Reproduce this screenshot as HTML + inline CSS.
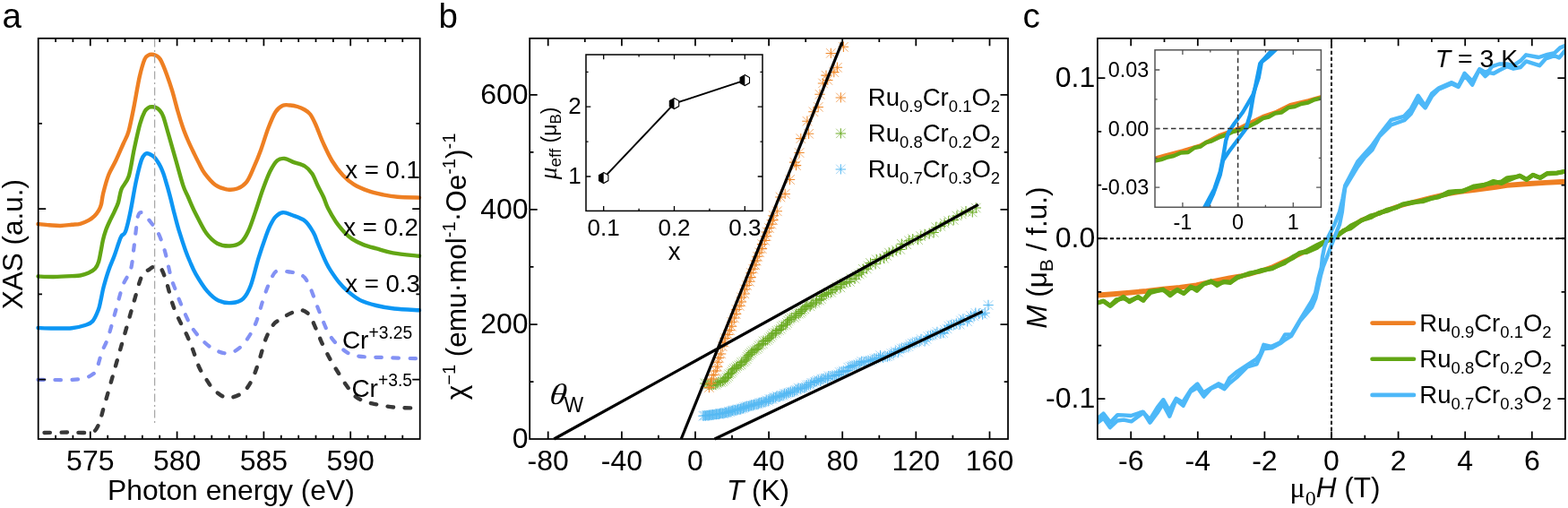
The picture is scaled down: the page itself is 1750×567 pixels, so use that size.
<!DOCTYPE html><html><head><meta charset="utf-8"><title>Figure</title><style>html,body{margin:0;padding:0;background:#fff;overflow:hidden}svg{display:block}</style></head><body>
<svg width="1750" height="567" viewBox="0 0 1750 567" font-family="'Liberation Sans', Arial, sans-serif" fill="#000">
<rect width="1750" height="567" fill="#fff"/>
<g fill="none" stroke-linejoin="round" stroke-linecap="round">
<path d="M49.5 483 C53.8 482.9 66.3 482.6 75 482.5 C83.7 482.4 95.6 483.8 101.4 482.5 C107.2 481.2 107.2 479.5 109.7 474.7 C112.2 469.9 113.6 462.1 116.1 453.6 C118.6 445.2 121.8 433.9 124.6 424 C127.4 414.1 130.2 404.3 133 394.4 C135.8 384.5 138.7 374.6 141.5 364.8 C144.3 355 147.1 344.8 149.9 335.3 C152.7 325.8 155.6 313.6 158.4 307.8 C161.2 302 164.3 302.4 166.8 300.6 C169.3 298.8 171.1 297.4 173.2 297.2 C175.3 297 177.4 296.6 179.5 299.4 C181.6 302.2 183.4 307.4 185.6 314.1 C187.8 320.8 190.3 332.4 192.7 339.5 C195 346.6 197.1 350.8 199.7 356.4 C202.3 362 205.6 367.7 208.2 373.3 C210.8 378.9 212.8 384.1 215.2 390.2 C217.5 396.3 219.7 404.4 222.3 410 C224.9 415.6 227.9 419.9 230.7 424.1 C233.5 428.3 235.4 432.1 239.2 435.4 C242.9 438.7 248.2 443.3 253.2 443.9 C258.2 444.5 264.9 442.1 269.3 439.2 C273.8 436.3 276.7 432.1 279.9 426.5 C283.1 420.9 285.5 413.4 288.3 405.3 C291.1 397.2 294 385 296.8 377.8 C299.6 370.6 302.8 365.5 305.3 362 C307.8 358.5 309.7 358.6 312 357 C314.3 355.4 316.6 353.9 319 352.5 C321.4 351.1 323.9 349.9 326.6 348.8 C329.4 347.7 332.8 345.9 335.5 346 C338.2 346.1 341 347.7 343 349.3 C345 350.9 346 352.9 347.5 355.5 C349 358.1 350.5 362 351.8 365 C353.1 368 354.2 370.5 355.5 373.5 C356.8 376.5 357.3 378.6 359.4 383 C361.5 387.4 365.1 394.7 367.9 399.9 C370.7 405.1 373.2 409.1 376.3 414 C379.4 418.9 382.9 424.8 386.2 429.5 C389.5 434.2 392.7 439 396 442 C399.3 445 402.4 446 406 447.5 C409.6 449 411.5 449.6 417.4 450.8 C423.3 452 432.8 453.9 441.2 454.7 C449.6 455.5 463.5 455.4 468 455.5" stroke="#383838" stroke-width="4.4" stroke-dasharray="6.5 12.5"/>
<path d="M42.5 423.8 C45.4 423.8 53.8 424 60 424 C66.2 424 74.2 424.4 80 424 C85.8 423.6 91.1 422.9 95 421.9 C98.9 420.8 101.3 419.2 103.4 417.7 C105.5 416.2 105.9 417.1 107.6 413 C109.3 408.9 111.7 398.7 113.8 392.8 C115.9 386.9 117.8 385 120.3 377.5 C122.8 370 126 357.8 128.8 347.9 C131.6 338 134.4 326.1 137.2 318.4 C140 310.7 143.7 307.9 145.7 301.5 C147.7 295.1 147.9 287.8 149 280 C150.1 272.2 151.2 261.2 152 255 C152.8 248.8 152.8 245.9 153.5 243 C154.2 240.1 154.9 238.2 156 237.5 C157.1 236.8 157.9 236.8 159.9 238.5 C161.9 240.2 165.2 244.1 168 247.7 C170.8 251.3 173.9 254.9 176.5 260 C179.1 265.1 181.5 272.2 183.3 278 C185.1 283.8 186.2 289.4 187.5 295 C188.8 300.6 190 306.7 191.3 311.3 C192.6 315.9 194.1 318.7 195.5 322.5 C196.9 326.3 197.8 329.2 199.7 333.9 C201.6 338.6 204.5 345.6 206.8 350.8 C209.2 356 210.8 360.2 213.8 364.9 C216.9 369.6 220.9 374.8 225.1 379 C229.3 383.2 234.3 387.6 239.2 390.2 C244.1 392.8 249.8 394.8 254.5 394.5 C259.2 394.2 263.3 391.5 267.2 388.4 C271.1 385.3 274.6 380.6 277.8 375.7 C281 370.8 283.4 366.1 286.2 358.7 C289 351.3 291.9 339.3 294.7 331.2 C297.5 323.1 300.7 314.8 303.2 310 C305.7 305.2 306 303.4 309.5 302.4 C313 301.3 320.4 303.2 324.3 303.7 C328.2 304.2 330.2 304.5 332.8 305.5 C335.4 306.5 337.6 307 339.9 309.7 C342.2 312.4 343.9 315.6 346.5 321.6 C349.1 327.6 352 336.9 355.5 345.5 C359 354.1 363.1 366 367.5 373.3 C371.9 380.6 376.7 385.2 381.7 389.2 C386.7 393.2 389.6 395.5 397.5 397.1 C405.4 398.8 417.6 398.6 429.3 399.1 C441.1 399.6 461.6 400.1 468 400.3" stroke="#8391f4" stroke-width="4.2" stroke-dasharray="6.5 12.5"/>
<path d="M42.5 366 C45.4 366.1 53.8 366.5 60 366.5 C66.2 366.5 74.2 366.8 80 366.2 C85.8 365.6 91.1 364.3 95 363 C98.9 361.7 100.9 361.4 103.4 358.5 C105.9 355.6 108.3 349.7 109.8 345.8 C111.3 341.9 111.5 339.3 112.5 335 C113.5 330.7 114.2 325.6 115.7 320 C117.2 314.4 119.3 307.1 121.3 301.4 C123.3 295.7 125.8 290.6 127.6 285.6 C129.4 280.6 131.1 275 132.4 271.3 C133.7 267.6 134.3 265.4 135.6 263.3 C136.9 261.2 138.3 263.2 140 258.6 C141.7 254 143.8 244.8 145.7 235.5 C147.6 226.2 149.7 212.5 151.7 203.1 C153.7 193.7 156.1 184 157.8 178.8 C159.5 173.6 160.9 173.2 162 172 C163.1 170.8 163.5 171.2 164.5 171.3 C165.5 171.4 166.7 171.8 168 172.5 C169.3 173.2 171 174.2 172.3 175.5 C173.6 176.8 174.8 178.7 176 180.5 C177.2 182.3 178.3 184.2 179.4 186.4 C180.5 188.7 181.6 191.5 182.5 194 C183.4 196.5 183.7 197.6 184.8 201.5 C186 205.4 187.8 211.4 189.4 217.6 C191.1 223.8 192.9 232 194.7 238.8 C196.5 245.6 197.9 251.4 200 258.2 C202.1 265 205 273.8 207 279.4 C209 285 210.1 287.6 212 292 C213.9 296.4 215.3 300.3 218.5 305.8 C221.7 311.3 227 319.9 231.2 324.9 C235.4 329.8 239.3 333.3 243.9 335.5 C248.5 337.7 254.1 338.4 258.7 338 C263.3 337.6 267.9 336.6 271.4 333.3 C274.9 330.1 277.1 325.9 279.9 318.5 C282.7 311.1 285.5 298.1 288.3 288.9 C291.1 279.7 294.6 269.6 296.8 263.5 C299 257.4 299.6 255.6 301.4 252 C303.2 248.4 305.1 244.5 307.5 242 C309.9 239.5 312.6 237.5 315.6 237.2 C318.7 236.9 321.7 238.4 325.8 240 C329.9 241.6 336.2 243.3 340.2 246.5 C344.2 249.7 347.3 255.3 349.7 259.4 C352.1 263.5 352.9 267.1 354.5 271 C356.1 274.9 357.8 279 359.4 282.7 C361 286.4 362.4 289.8 364 293 C365.6 296.2 366.6 298.3 369.1 302.1 C371.6 305.9 375.6 311.8 378.8 315.7 C382 319.6 384.6 322.2 388.5 325.4 C392.4 328.6 396.9 332.5 402.1 335.1 C407.4 337.7 413.7 339.4 420 341 C426.3 342.6 432 343.6 440 344.5 C448 345.4 463.3 346 468 346.3" stroke="#0c96f4" stroke-width="4.4"/>
<path d="M42.5 308.5 C45.4 308.6 53.8 309.1 60 309 C66.2 308.9 75.1 308.4 80 308.1 C84.9 307.9 86.3 308.1 89.5 307.5 C92.7 306.9 96.2 305.9 99 304.6 C101.8 303.3 104.3 301.9 106.2 299.8 C108.1 297.7 109.2 295.1 110.2 291.9 C111.2 288.7 111.7 284.8 112.5 280.8 C113.3 276.8 114 272.1 114.9 268.1 C115.8 264.1 116.8 260.7 118.1 257 C119.4 253.3 121.3 249.3 122.9 245.9 C124.5 242.5 126.1 239.6 127.6 236.3 C129.1 233 130.7 230.2 132 226 C133.3 221.8 133.6 216 135.5 211.2 C137.4 206.4 141.2 204.4 143.6 197 C146 189.6 147.6 176.4 149.7 166.6 C151.8 156.8 154.3 145.2 156.3 138.2 C158.3 131.2 159.9 127.5 161.5 124.5 C163.1 121.5 164.6 120.9 166 120 C167.4 119.1 168.7 119.3 170 119.3 C171.3 119.3 172.7 119.4 174 120 C175.3 120.6 176.6 121.3 178 123 C179.4 124.7 180.5 125.4 182.2 130 C183.9 134.6 185.8 142.3 188.2 150.4 C190.5 158.5 193.6 169.4 196.3 178.8 C199 188.2 202.1 200.2 204.4 207.1 C206.7 214 207.7 214.8 210 220 C212.3 225.2 214.7 231.3 218.1 238 C221.5 244.7 226.2 254.7 230.3 260.3 C234.4 265.9 238.1 269.3 242.5 271.7 C246.9 274.1 252.3 274.7 256.7 274.5 C261.1 274.3 265.5 273.2 268.9 270.5 C272.3 267.8 274.3 264.1 277 258.3 C279.7 252.5 282.5 243.7 285.2 235.9 C287.9 228.1 290.6 219 293.3 211.6 C296 204.2 298.7 196.7 301.4 191.3 C304.1 185.9 306.8 181.5 309.5 179.1 C312.2 176.7 314.6 176.7 317.7 177 C320.8 177.3 324.1 179.7 327.8 181.1 C331.6 182.5 336.8 183.4 340.2 185.5 C343.6 187.6 345.9 190.1 348.3 193.7 C350.7 197.3 352.4 202.6 354.5 207 C356.6 211.4 359.2 215.8 361.1 220 C363 224.2 363.7 227.8 366 232.3 C368.3 236.8 371.6 242.7 374.7 247.2 C377.8 251.7 381.5 256.2 384.6 259.5 C387.7 262.8 389.7 264.6 393.2 266.9 C396.7 269.2 401.1 271.4 405.6 273.1 C410.1 274.9 414.5 275.9 420 277.4 C425.5 278.9 430.6 280.9 438.6 282.3 C446.6 283.7 463.1 285.2 468 285.8" stroke="#62a614" stroke-width="4.4"/>
<path d="M42.5 250 C44.6 250.2 50.8 251 55 251.3 C59.2 251.6 63.3 252.1 67.5 252 C71.7 251.9 76.3 251.2 80 250.8 C83.7 250.4 86.3 250.6 89.5 249.8 C92.7 249 96.3 247.4 99 245.9 C101.7 244.4 103.5 242.9 105.4 241.1 C107.3 239.2 108.9 237 110.2 234.8 C111.5 232.6 112.2 231.3 113 228 C113.8 224.7 113.9 220.7 115.3 215.2 C116.7 209.7 118.9 201.1 121.3 195 C123.7 188.9 126.8 184.6 129.5 178.8 C132.2 173.1 135.2 165.9 137.6 160.5 C139.9 155.1 141.6 153.4 143.6 146.3 C145.6 139.2 147.7 128.1 149.7 118 C151.7 107.9 153.8 94.2 155.8 85.5 C157.8 76.8 159.8 70 161.5 66 C163.2 62 164.7 62.4 166 61.5 C167.3 60.6 168.3 60.8 169.5 60.8 C170.7 60.8 171.8 61 173 61.5 C174.2 62 175.3 62.3 176.5 63.5 C177.7 64.7 178.5 65.2 180.1 68.5 C181.7 71.8 184.2 78 186.2 83.5 C188.2 89 190.3 95 192.3 101.7 C194.3 108.5 196.5 117.3 198.4 124 C200.3 130.7 202.2 136.7 204 142 C205.8 147.3 207.5 151.3 209.5 156 C211.5 160.7 213.9 165.7 216 170 C218.1 174.3 219.9 178.1 222 182 C224.1 185.9 225.2 189.2 228.3 193.3 C231.4 197.4 236.4 203.5 240.5 206.5 C244.6 209.5 248.6 210.6 252.7 211.3 C256.8 212 261.1 211.8 264.8 210.5 C268.5 209.2 271.9 207.3 275 203.4 C278.1 199.5 280.4 193.3 283.1 187.2 C285.8 181.1 288.6 174.3 291.3 166.9 C294 159.5 296.7 150 299.4 143 C302.1 136 304.8 129.2 307.5 125 C310.2 120.8 312.9 119 315.6 117.8 C318.3 116.5 321.1 117.3 323.8 117.5 C326.5 117.7 329.2 118.2 331.9 119 C334.6 119.8 337.6 121.1 340 122.5 C342.4 123.9 344.1 124.8 346.2 127.5 C348.2 130.2 349.9 133.7 352.3 139 C354.7 144.3 357.4 152.4 360.5 159.2 C363.6 165.9 366.9 173.4 370.6 179.5 C374.3 185.6 378.7 191.4 382.8 195.8 C386.9 200.2 390.3 203 395 205.9 C399.7 208.8 405.8 211.3 411.2 213.2 C416.6 215.1 422.1 216.2 427.5 217.3 C432.9 218.4 436.9 219.2 443.7 219.8 C450.4 220.4 463.9 220.5 468 220.6" stroke="#ee7f22" stroke-width="4.4"/>
</g>
<path d="M172.6 43.5 V473" stroke="#a8a8a8" stroke-width="1.3" stroke-dasharray="9 3.5 2 3.5"/>
<rect x="42.7" y="42.8" width="426" height="447.2" fill="none" stroke="#000" stroke-width="1.75"/>
<path d="M100.8 490 v-8.5M197.6 490 v-8.5M294.4 490 v-8.5M391.2 490 v-8.5" stroke="#000" stroke-width="1.75" fill="none"/>
<path d="M62.1 490 v-4.3M81.4 490 v-4.3M120.2 490 v-4.3M139.5 490 v-4.3M158.9 490 v-4.3M178.2 490 v-4.3M217 490 v-4.3M236.3 490 v-4.3M255.7 490 v-4.3M275.1 490 v-4.3M313.8 490 v-4.3M333.2 490 v-4.3M352.5 490 v-4.3M371.9 490 v-4.3M410.6 490 v-4.3M430 490 v-4.3M449.3 490 v-4.3" stroke="#000" stroke-width="1.75" fill="none"/>
<path d="M100.8 42.8 v8.5M197.6 42.8 v8.5M294.4 42.8 v8.5M391.2 42.8 v8.5" stroke="#000" stroke-width="1.75" fill="none"/>
<path d="M62.1 42.8 v4.3M81.4 42.8 v4.3M120.2 42.8 v4.3M139.5 42.8 v4.3M158.9 42.8 v4.3M178.2 42.8 v4.3M217 42.8 v4.3M236.3 42.8 v4.3M255.7 42.8 v4.3M275.1 42.8 v4.3M313.8 42.8 v4.3M333.2 42.8 v4.3M352.5 42.8 v4.3M371.9 42.8 v4.3M410.6 42.8 v4.3M430 42.8 v4.3M449.3 42.8 v4.3" stroke="#000" stroke-width="1.75" fill="none"/>
<path d="M42.7 233.1 h8.5M42.7 423.7 h8.5" stroke="#000" stroke-width="1.75" fill="none"/>
<path d="M42.7 137.8 h4.3M42.7 328.4 h4.3" stroke="#000" stroke-width="1.75" fill="none"/>
<path d="M468.7 233.1 h-8.5M468.7 423.7 h-8.5" stroke="#000" stroke-width="1.75" fill="none"/>
<path d="M468.7 137.8 h-4.3M468.7 328.4 h-4.3" stroke="#000" stroke-width="1.75" fill="none"/>
<text x="100.8" y="524.8" font-size="32" text-anchor="middle">575</text>
<text x="197.6" y="524.8" font-size="32" text-anchor="middle">580</text>
<text x="294.4" y="524.8" font-size="32" text-anchor="middle">585</text>
<text x="391.2" y="524.8" font-size="32" text-anchor="middle">590</text>
<text x="257.9" y="558.4" font-size="31.8" text-anchor="middle">Photon energy (eV)</text>
<text transform="translate(25.3 272.7) rotate(-90)" font-size="31.5" text-anchor="middle">XAS (a.u.)</text>
<text x="2.6" y="30.8" font-size="38.5" text-anchor="start">a</text>
<text x="385.3" y="198.8" font-size="27.6" text-anchor="start">x = 0.1</text>
<text x="383.2" y="262.8" font-size="27.6" text-anchor="start">x = 0.2</text>
<text x="385.2" y="326" font-size="27.6" text-anchor="start">x = 0.3</text>
<text x="381.9" y="388.5" font-size="28">Cr<tspan font-size="19.3" dy="-10.5">+3.25</tspan></text>
<text x="392.4" y="442.7" font-size="28">Cr<tspan font-size="19.3" dy="-11.9">+3.5</tspan></text>
<path d="M779.6 459l10.5 10.5M779.6 469.4l10.5 -10.5M780.9 458.7l10.5 10.5M780.9 469.2l10.5 -10.5M782.3 458.9l10.5 10.5M782.3 469.3l10.5 -10.5M783.5 458.3l10.5 10.5M783.5 468.8l10.5 -10.5M784.9 458.5l10.5 10.5M784.9 469l10.5 -10.5M786.2 458.2l10.5 10.5M786.2 468.7l10.5 -10.5M787.5 457.9l10.5 10.5M787.5 468.3l10.5 -10.5M788.9 458l10.5 10.5M788.9 468.5l10.5 -10.5M790.2 457.5l10.5 10.5M790.2 468l10.5 -10.5M791.5 457.6l10.5 10.5M791.5 468.1l10.5 -10.5M792.8 457.2l10.5 10.5M792.8 467.6l10.5 -10.5M794.2 457l10.5 10.5M794.2 467.4l10.5 -10.5M795.6 457l10.5 10.5M795.6 467.5l10.5 -10.5M797 457.1l10.5 10.5M797 467.6l10.5 -10.5M798.3 456.2l10.5 10.5M798.3 466.7l10.5 -10.5M799.7 456.1l10.5 10.5M799.7 466.5l10.5 -10.5M801.2 456.1l10.5 10.5M801.2 466.6l10.5 -10.5M802.6 456.1l10.5 10.5M802.6 466.6l10.5 -10.5M803.9 455.5l10.5 10.5M803.9 466l10.5 -10.5M805.3 455l10.5 10.5M805.3 465.5l10.5 -10.5M806.8 455.2l10.5 10.5M806.8 465.7l10.5 -10.5M808 454l10.5 10.5M808 464.5l10.5 -10.5M809.7 454.5l10.5 10.5M809.7 465l10.5 -10.5M811 453.5l10.5 10.5M811 464l10.5 -10.5M812.3 453l10.5 10.5M812.3 463.5l10.5 -10.5M813.8 452.6l10.5 10.5M813.8 463.1l10.5 -10.5M815.3 452.5l10.5 10.5M815.3 463l10.5 -10.5M816.9 452.6l10.5 10.5M816.9 463.1l10.5 -10.5M818.1 451.5l10.5 10.5M818.1 462l10.5 -10.5M819.7 451.6l10.5 10.5M819.7 462.1l10.5 -10.5M821.2 451.2l10.5 10.5M821.2 461.7l10.5 -10.5M822.6 450.5l10.5 10.5M822.6 461l10.5 -10.5M824.2 450.3l10.5 10.5M824.2 460.7l10.5 -10.5M825.5 449.2l10.5 10.5M825.5 459.7l10.5 -10.5M827 448.7l10.5 10.5M827 459.2l10.5 -10.5M828.5 448.4l10.5 10.5M828.5 458.9l10.5 -10.5M830.2 448.6l10.5 10.5M830.2 459.1l10.5 -10.5M831.6 447.8l10.5 10.5M831.6 458.3l10.5 -10.5M833.1 447.2l10.5 10.5M833.1 457.7l10.5 -10.5M834.8 447.1l10.5 10.5M834.8 457.6l10.5 -10.5M836.3 446.5l10.5 10.5M836.3 457l10.5 -10.5M837.8 445.8l10.5 10.5M837.8 456.3l10.5 -10.5M839.6 446l10.5 10.5M839.6 456.5l10.5 -10.5M841.1 445.4l10.5 10.5M841.1 455.9l10.5 -10.5M842.5 444.3l10.5 10.5M842.5 454.8l10.5 -10.5M844.2 444.3l10.5 10.5M844.2 454.8l10.5 -10.5M845.8 443.7l10.5 10.5M845.8 454.2l10.5 -10.5M847.5 443.7l10.5 10.5M847.5 454.1l10.5 -10.5M849.1 442.9l10.5 10.5M849.1 453.4l10.5 -10.5M850.4 441.6l10.5 10.5M850.4 452.1l10.5 -10.5M852.4 442.2l10.5 10.5M852.4 452.6l10.5 -10.5M853.6 440.2l10.5 10.5M853.6 450.7l10.5 -10.5M855.4 440.1l10.5 10.5M855.4 450.6l10.5 -10.5M857.2 440l10.5 10.5M857.2 450.5l10.5 -10.5M858.5 438.4l10.5 10.5M858.5 448.9l10.5 -10.5M860.3 438.4l10.5 10.5M860.3 448.9l10.5 -10.5M861.7 437l10.5 10.5M861.7 447.5l10.5 -10.5M863.8 437.4l10.5 10.5M863.8 447.9l10.5 -10.5M865.5 436.9l10.5 10.5M865.5 447.4l10.5 -10.5M867.1 436l10.5 10.5M867.1 446.5l10.5 -10.5M868.9 435.9l10.5 10.5M868.9 446.4l10.5 -10.5M870.3 434.2l10.5 10.5M870.3 444.7l10.5 -10.5M872.3 434.3l10.5 10.5M872.3 444.8l10.5 -10.5M873.9 433.5l10.5 10.5M873.9 444l10.5 -10.5M875.7 432.9l10.5 10.5M875.7 443.3l10.5 -10.5M877.3 432l10.5 10.5M877.3 442.5l10.5 -10.5M879.4 432.1l10.5 10.5M879.4 442.6l10.5 -10.5M881.2 431.6l10.5 10.5M881.2 442.1l10.5 -10.5M882.6 430l10.5 10.5M882.6 440.5l10.5 -10.5M884.5 429.7l10.5 10.5M884.5 440.2l10.5 -10.5M885.9 427.8l10.5 10.5M885.9 438.3l10.5 -10.5M888.2 428.4l10.5 10.5M888.2 438.9l10.5 -10.5M889.9 427.6l10.5 10.5M889.9 438.1l10.5 -10.5M892 427.7l10.5 10.5M892 438.1l10.5 -10.5M893.7 426.6l10.5 10.5M893.7 437.1l10.5 -10.5M895.1 424.7l10.5 10.5M895.1 435.2l10.5 -10.5M897 424.2l10.5 10.5M897 434.7l10.5 -10.5M899.1 424.1l10.5 10.5M899.1 434.6l10.5 -10.5M900.4 422l10.5 10.5M900.4 432.5l10.5 -10.5M902.7 422.2l10.5 10.5M902.7 432.7l10.5 -10.5M904.3 420.8l10.5 10.5M904.3 431.3l10.5 -10.5M906.2 420l10.5 10.5M906.2 430.4l10.5 -10.5M908 419.1l10.5 10.5M908 429.6l10.5 -10.5M910.6 420l10.5 10.5M910.6 430.5l10.5 -10.5M911.9 417.7l10.5 10.5M911.9 428.2l10.5 -10.5M914 417.3l10.5 10.5M914 427.7l10.5 -10.5M916.1 416.8l10.5 10.5M916.1 427.3l10.5 -10.5M918.5 417.3l10.5 10.5M918.5 427.8l10.5 -10.5M919.7 414.5l10.5 10.5M919.7 425l10.5 -10.5M922 414.7l10.5 10.5M922 425.2l10.5 -10.5M924.1 414.2l10.5 10.5M924.1 424.6l10.5 -10.5M926.5 414.2l10.5 10.5M926.5 424.7l10.5 -10.5M928.4 413.3l10.5 10.5M928.4 423.8l10.5 -10.5M930.5 412.6l10.5 10.5M930.5 423.1l10.5 -10.5M931.9 410.2l10.5 10.5M931.9 420.7l10.5 -10.5M934.1 409.8l10.5 10.5M934.1 420.2l10.5 -10.5M936.1 408.7l10.5 10.5M936.1 419.2l10.5 -10.5M938.8 409.2l10.5 10.5M938.8 419.7l10.5 -10.5M941 408.2l10.5 10.5M941 418.7l10.5 -10.5M941.5 404.9l10.5 10.5M941.5 415.4l10.5 -10.5M943.7 403.9l10.5 10.5M943.7 414.4l10.5 -10.5M945.9 403.1l10.5 10.5M945.9 413.6l10.5 -10.5M948 402.3l10.5 10.5M948 412.8l10.5 -10.5M950.5 402.2l10.5 10.5M950.5 412.7l10.5 -10.5M952.7 401.7l10.5 10.5M952.7 412.1l10.5 -10.5M954.6 399.9l10.5 10.5M954.6 410.3l10.5 -10.5M956.5 398.2l10.5 10.5M956.5 408.7l10.5 -10.5M959.1 398.7l10.5 10.5M959.1 409.2l10.5 -10.5M961.3 397.7l10.5 10.5M961.3 408.2l10.5 -10.5M963.8 397.5l10.5 10.5M963.8 408l10.5 -10.5M966.5 398l10.5 10.5M966.5 408.5l10.5 -10.5M968.5 396.4l10.5 10.5M968.5 406.9l10.5 -10.5M970.6 395.1l10.5 10.5M970.6 405.5l10.5 -10.5M973 394.7l10.5 10.5M973 405.2l10.5 -10.5M975.4 394.2l10.5 10.5M975.4 404.7l10.5 -10.5M977.2 391.4l10.5 10.5M977.2 401.9l10.5 -10.5M980.4 393.8l10.5 10.5M980.4 404.3l10.5 -10.5M982.7 392.8l10.5 10.5M982.7 403.3l10.5 -10.5M985.2 392.5l10.5 10.5M985.2 402.9l10.5 -10.5M987.6 391.5l10.5 10.5M987.6 402l10.5 -10.5M989.6 389.3l10.5 10.5M989.6 399.8l10.5 -10.5M992.1 388.9l10.5 10.5M992.1 399.4l10.5 -10.5M994.1 387l10.5 10.5M994.1 397.5l10.5 -10.5M997.2 387.9l10.5 10.5M997.2 398.4l10.5 -10.5M998.7 384.8l10.5 10.5M998.7 395.3l10.5 -10.5M1001 383.7l10.5 10.5M1001 394.2l10.5 -10.5M1003.7 383.2l10.5 10.5M1003.7 393.7l10.5 -10.5M1006 381.9l10.5 10.5M1006 392.4l10.5 -10.5M1008.7 381.4l10.5 10.5M1008.7 391.9l10.5 -10.5M1010.6 379.2l10.5 10.5M1010.6 389.7l10.5 -10.5M1012.9 377.9l10.5 10.5M1012.9 388.4l10.5 -10.5M1015.6 377.3l10.5 10.5M1015.6 387.8l10.5 -10.5M1018 375.9l10.5 10.5M1018 386.4l10.5 -10.5M1020.9 375.8l10.5 10.5M1020.9 386.3l10.5 -10.5M1022.8 373.3l10.5 10.5M1022.8 383.8l10.5 -10.5M1026.8 375.4l10.5 10.5M1026.8 385.9l10.5 -10.5M1028.8 373.2l10.5 10.5M1028.8 383.7l10.5 -10.5M1030.5 370.2l10.5 10.5M1030.5 380.7l10.5 -10.5M1033.2 369.4l10.5 10.5M1033.2 379.9l10.5 -10.5M1035.9 368.6l10.5 10.5M1035.9 379.1l10.5 -10.5M1038.5 367.4l10.5 10.5M1038.5 377.9l10.5 -10.5M1040.6 365.2l10.5 10.5M1040.6 375.7l10.5 -10.5M1044.7 367l10.5 10.5M1044.7 377.5l10.5 -10.5M1047.5 366.4l10.5 10.5M1047.5 376.8l10.5 -10.5M1049.1 362.9l10.5 10.5M1049.1 373.4l10.5 -10.5M1051.8 361.7l10.5 10.5M1051.8 372.2l10.5 -10.5M1053.6 358.7l10.5 10.5M1053.6 369.2l10.5 -10.5M1056.3 357.5l10.5 10.5M1056.3 368l10.5 -10.5M1059.5 357.3l10.5 10.5M1059.5 367.8l10.5 -10.5M1062 355.7l10.5 10.5M1062 366.2l10.5 -10.5M1065.9 356.9l10.5 10.5M1065.9 367.4l10.5 -10.5M1067.2 352.6l10.5 10.5M1067.2 363.1l10.5 -10.5M1069.7 350.7l10.5 10.5M1069.7 361.2l10.5 -10.5M1074.4 353.6l10.5 10.5M1074.4 364.1l10.5 -10.5M1076.3 350.3l10.5 10.5M1076.3 360.8l10.5 -10.5M1078.2 347.2l10.5 10.5M1078.2 357.7l10.5 -10.5M1081.9 347.7l10.5 10.5M1081.9 358.2l10.5 -10.5M1083.5 344l10.5 10.5M1083.5 354.5l10.5 -10.5M1087.5 345l10.5 10.5M1087.5 355.5l10.5 -10.5M1091.4 345.8l10.5 10.5M1091.4 356.3l10.5 -10.5M1094 343.9l10.5 10.5M1094 354.4l10.5 -10.5" stroke="#8ccaf2" stroke-width="0.8" fill="none"/>
<path d="M779.2 464.2h11.4M784.9 458.5v11.4M780.5 463.9h11.4M786.2 458.2v11.4M781.8 464.1h11.4M787.5 458.4v11.4M783.1 463.6h11.4M788.8 457.9v11.4M784.4 463.7h11.4M790.1 458v11.4M785.7 463.5h11.4M791.4 457.8v11.4M787 463.1h11.4M792.7 457.4v11.4M788.4 463.3h11.4M794.1 457.6v11.4M789.7 462.7h11.4M795.4 457v11.4M791.1 462.9h11.4M796.8 457.2v11.4M792.4 462.4h11.4M798.1 456.7v11.4M793.8 462.2h11.4M799.5 456.5v11.4M795.2 462.2h11.4M800.9 456.5v11.4M796.6 462.3h11.4M802.3 456.6v11.4M797.8 461.5h11.4M803.5 455.8v11.4M799.2 461.3h11.4M804.9 455.6v11.4M800.7 461.4h11.4M806.4 455.7v11.4M802.2 461.4h11.4M807.9 455.7v11.4M803.5 460.7h11.4M809.2 455v11.4M804.8 460.2h11.4M810.5 454.5v11.4M806.4 460.5h11.4M812.1 454.8v11.4M807.6 459.2h11.4M813.3 453.5v11.4M809.2 459.7h11.4M814.9 454v11.4M810.5 458.8h11.4M816.2 453.1v11.4M811.9 458.3h11.4M817.6 452.6v11.4M813.3 457.9h11.4M819 452.2v11.4M814.8 457.7h11.4M820.5 452v11.4M816.4 457.9h11.4M822.1 452.2v11.4M817.7 456.8h11.4M823.4 451.1v11.4M819.3 456.8h11.4M825 451.1v11.4M820.8 456.5h11.4M826.5 450.8v11.4M822.2 455.7h11.4M827.9 450v11.4M823.7 455.5h11.4M829.4 449.8v11.4M825 454.5h11.4M830.7 448.8v11.4M826.5 454h11.4M832.2 448.3v11.4M828.1 453.7h11.4M833.8 448v11.4M829.8 453.8h11.4M835.5 448.1v11.4M831.2 453h11.4M836.9 447.3v11.4M832.7 452.4h11.4M838.4 446.7v11.4M834.3 452.3h11.4M840 446.6v11.4M835.8 451.7h11.4M841.5 446v11.4M837.3 451.1h11.4M843 445.4v11.4M839.1 451.3h11.4M844.8 445.6v11.4M840.6 450.7h11.4M846.3 445v11.4M842 449.5h11.4M847.7 443.8v11.4M843.7 449.5h11.4M849.4 443.8v11.4M845.3 448.9h11.4M851 443.2v11.4M847.1 448.9h11.4M852.8 443.2v11.4M848.6 448.1h11.4M854.3 442.4v11.4M850 446.9h11.4M855.7 441.2v11.4M852 447.4h11.4M857.7 441.7v11.4M853.1 445.5h11.4M858.8 439.8v11.4M854.9 445.3h11.4M860.6 439.6v11.4M856.7 445.3h11.4M862.4 439.6v11.4M858 443.7h11.4M863.7 438v11.4M859.9 443.6h11.4M865.6 437.9v11.4M861.2 442.2h11.4M866.9 436.5v11.4M863.3 442.7h11.4M869 437v11.4M865 442.2h11.4M870.7 436.5v11.4M866.6 441.2h11.4M872.3 435.5v11.4M868.5 441.1h11.4M874.2 435.4v11.4M869.8 439.5h11.4M875.5 433.8v11.4M871.8 439.6h11.4M877.5 433.9v11.4M873.5 438.7h11.4M879.2 433v11.4M875.2 438.1h11.4M880.9 432.4v11.4M876.9 437.2h11.4M882.6 431.5v11.4M878.9 437.3h11.4M884.6 431.6v11.4M880.7 436.9h11.4M886.4 431.2v11.4M882.2 435.3h11.4M887.9 429.6v11.4M884.1 435h11.4M889.8 429.3v11.4M885.4 433.1h11.4M891.1 427.4v11.4M887.7 433.7h11.4M893.4 428v11.4M889.5 432.9h11.4M895.2 427.2v11.4M891.6 432.9h11.4M897.3 427.2v11.4M893.3 431.8h11.4M899 426.1v11.4M894.6 430h11.4M900.3 424.3v11.4M896.6 429.5h11.4M902.3 423.8v11.4M898.7 429.4h11.4M904.4 423.7v11.4M900 427.2h11.4M905.7 421.5v11.4M902.2 427.5h11.4M907.9 421.8v11.4M903.9 426.1h11.4M909.6 420.4v11.4M905.7 425.2h11.4M911.4 419.5v11.4M907.6 424.3h11.4M913.3 418.6v11.4M910.1 425.2h11.4M915.8 419.5v11.4M911.5 423h11.4M917.2 417.3v11.4M913.5 422.5h11.4M919.2 416.8v11.4M915.6 422.1h11.4M921.3 416.4v11.4M918 422.5h11.4M923.7 416.8v11.4M919.2 419.8h11.4M924.9 414.1v11.4M921.6 419.9h11.4M927.3 414.2v11.4M923.7 419.4h11.4M929.4 413.7v11.4M926 419.5h11.4M931.7 413.8v11.4M928 418.5h11.4M933.7 412.8v11.4M930.1 417.8h11.4M935.8 412.1v11.4M931.5 415.5h11.4M937.2 409.8v11.4M933.7 415h11.4M939.4 409.3v11.4M935.6 414h11.4M941.3 408.3v11.4M938.3 414.4h11.4M944 408.7v11.4M940.5 413.4h11.4M946.2 407.7v11.4M941.1 410.2h11.4M946.8 404.5v11.4M943.3 409.1h11.4M949 403.4v11.4M945.4 408.4h11.4M951.1 402.7v11.4M947.6 407.5h11.4M953.3 401.8v11.4M950 407.4h11.4M955.7 401.7v11.4M952.3 406.9h11.4M958 401.2v11.4M954.1 405.1h11.4M959.8 399.4v11.4M956 403.5h11.4M961.7 397.8v11.4M958.7 403.9h11.4M964.4 398.2v11.4M960.9 403h11.4M966.6 397.3v11.4M963.3 402.8h11.4M969 397.1v11.4M966 403.2h11.4M971.7 397.5v11.4M968 401.6h11.4M973.7 395.9v11.4M970.1 400.3h11.4M975.8 394.6v11.4M972.5 399.9h11.4M978.2 394.2v11.4M974.9 399.5h11.4M980.6 393.8v11.4M976.8 396.7h11.4M982.5 391v11.4M979.9 399h11.4M985.6 393.3v11.4M982.2 398h11.4M987.9 392.3v11.4M984.8 397.7h11.4M990.5 392v11.4M987.1 396.7h11.4M992.8 391v11.4M989.2 394.6h11.4M994.9 388.9v11.4M991.6 394.2h11.4M997.3 388.5v11.4M993.6 392.2h11.4M999.3 386.5v11.4M996.7 393.1h11.4M1002.4 387.4v11.4M998.2 390.1h11.4M1003.9 384.4v11.4M1000.6 389h11.4M1006.3 383.3v11.4M1003.2 388.4h11.4M1008.9 382.7v11.4M1005.5 387.1h11.4M1011.2 381.4v11.4M1008.2 386.7h11.4M1013.9 381v11.4M1010.1 384.5h11.4M1015.8 378.8v11.4M1012.5 383.1h11.4M1018.2 377.4v11.4M1015.2 382.5h11.4M1020.9 376.8v11.4M1017.5 381.2h11.4M1023.2 375.5v11.4M1020.4 381h11.4M1026.1 375.3v11.4M1022.3 378.5h11.4M1028 372.8v11.4M1026.4 380.7h11.4M1032.1 375v11.4M1028.4 378.5h11.4M1034.1 372.8v11.4M1030 375.4h11.4M1035.7 369.7v11.4M1032.8 374.6h11.4M1038.5 368.9v11.4M1035.5 373.8h11.4M1041.2 368.1v11.4M1038.1 372.7h11.4M1043.8 367v11.4M1040.2 370.4h11.4M1045.9 364.7v11.4M1044.2 372.2h11.4M1049.9 366.5v11.4M1047.1 371.6h11.4M1052.8 365.9v11.4M1048.7 368.1h11.4M1054.4 362.4v11.4M1051.3 367h11.4M1057 361.3v11.4M1053.2 364h11.4M1058.9 358.3v11.4M1055.9 362.8h11.4M1061.6 357.1v11.4M1059 362.5h11.4M1064.7 356.8v11.4M1061.6 360.9h11.4M1067.3 355.2v11.4M1065.5 362.1h11.4M1071.2 356.4v11.4M1066.8 357.9h11.4M1072.5 352.2v11.4M1069.2 355.9h11.4M1074.9 350.2v11.4M1074 358.8h11.4M1079.7 353.1v11.4M1075.8 355.6h11.4M1081.5 349.9v11.4M1077.8 352.5h11.4M1083.5 346.8v11.4M1081.4 353h11.4M1087.1 347.3v11.4M1083.1 349.2h11.4M1088.8 343.5v11.4M1087 350.2h11.4M1092.7 344.5v11.4M1090.9 351.1h11.4M1096.6 345.4v11.4M1093.5 349.2h11.4M1099.2 343.5v11.4" stroke="#55b9f3" stroke-width="1.05" fill="none"/>
<path d="M781.6 422.6l10.5 10.5M781.6 433.1l10.5 -10.5M783.8 422.7l10.5 10.5M783.8 433.2l10.5 -10.5M785.5 423.7l10.5 10.5M785.5 434.2l10.5 -10.5M787.4 423.8l10.5 10.5M787.4 434.2l10.5 -10.5M789.4 424.9l10.5 10.5M789.4 435.3l10.5 -10.5M791.4 424l10.5 10.5M791.4 434.5l10.5 -10.5M793.5 423.9l10.5 10.5M793.5 434.4l10.5 -10.5M795.1 422.3l10.5 10.5M795.1 432.8l10.5 -10.5M796.8 421.3l10.5 10.5M796.8 431.7l10.5 -10.5M799.2 421.3l10.5 10.5M799.2 431.8l10.5 -10.5M801.2 420.4l10.5 10.5M801.2 430.9l10.5 -10.5M802.7 418.9l10.5 10.5M802.7 429.4l10.5 -10.5M804.3 417.6l10.5 10.5M804.3 428l10.5 -10.5M805.9 416.2l10.5 10.5M805.9 426.7l10.5 -10.5M807.5 414.7l10.5 10.5M807.5 425.2l10.5 -10.5M808.3 412.5l10.5 10.5M808.3 423l10.5 -10.5M810.2 411.5l10.5 10.5M810.2 422l10.5 -10.5M811.5 409.8l10.5 10.5M811.5 420.2l10.5 -10.5M812.6 407.8l10.5 10.5M812.6 418.3l10.5 -10.5M814.1 406.3l10.5 10.5M814.1 416.8l10.5 -10.5M816 405.2l10.5 10.5M816 415.6l10.5 -10.5M817.5 403.6l10.5 10.5M817.5 414.1l10.5 -10.5M819.7 402.7l10.5 10.5M819.7 413.2l10.5 -10.5M821.6 401.6l10.5 10.5M821.6 412.1l10.5 -10.5M822.5 399.3l10.5 10.5M822.5 409.8l10.5 -10.5M824.8 398.5l10.5 10.5M824.8 409l10.5 -10.5M826.4 397.1l10.5 10.5M826.4 407.6l10.5 -10.5M828 395.5l10.5 10.5M828 406l10.5 -10.5M828.8 393.1l10.5 10.5M828.8 403.6l10.5 -10.5M830.2 391.4l10.5 10.5M830.2 401.9l10.5 -10.5M831.8 389.8l10.5 10.5M831.8 400.3l10.5 -10.5M833.3 388.2l10.5 10.5M833.3 398.7l10.5 -10.5M834.9 386.6l10.5 10.5M834.9 397.1l10.5 -10.5M837.1 385.6l10.5 10.5M837.1 396.1l10.5 -10.5M839.1 384.4l10.5 10.5M839.1 394.9l10.5 -10.5M840.7 382.8l10.5 10.5M840.7 393.2l10.5 -10.5M841.9 380.7l10.5 10.5M841.9 391.2l10.5 -10.5M843.9 379.5l10.5 10.5M843.9 390l10.5 -10.5M845.9 378.3l10.5 10.5M845.9 388.8l10.5 -10.5M846.8 375.7l10.5 10.5M846.8 386.2l10.5 -10.5M849.3 375.2l10.5 10.5M849.3 385.6l10.5 -10.5M851.5 374.1l10.5 10.5M851.5 384.6l10.5 -10.5M853.1 372.4l10.5 10.5M853.1 382.9l10.5 -10.5M854.9 370.8l10.5 10.5M854.9 381.3l10.5 -10.5M856.3 368.9l10.5 10.5M856.3 379.3l10.5 -10.5M857.7 366.9l10.5 10.5M857.7 377.4l10.5 -10.5M860.3 366.3l10.5 10.5M860.3 376.7l10.5 -10.5M861.6 364l10.5 10.5M861.6 374.5l10.5 -10.5M864 363.2l10.5 10.5M864 373.7l10.5 -10.5M866.1 361.9l10.5 10.5M866.1 372.4l10.5 -10.5M867.2 359.4l10.5 10.5M867.2 369.9l10.5 -10.5M869.1 357.9l10.5 10.5M869.1 368.4l10.5 -10.5M871.6 357.2l10.5 10.5M871.6 367.7l10.5 -10.5M873.2 355.2l10.5 10.5M873.2 365.7l10.5 -10.5M874.4 352.8l10.5 10.5M874.4 363.3l10.5 -10.5M876.2 351.1l10.5 10.5M876.2 361.6l10.5 -10.5M878 349.5l10.5 10.5M878 360l10.5 -10.5M880.9 349l10.5 10.5M880.9 359.5l10.5 -10.5M882.7 347.3l10.5 10.5M882.7 357.8l10.5 -10.5M883.4 345l10.5 10.5M883.4 355.5l10.5 -10.5M886 344.9l10.5 10.5M886 355.4l10.5 -10.5M887.9 344l10.5 10.5M887.9 354.5l10.5 -10.5M889.2 342.2l10.5 10.5M889.2 352.7l10.5 -10.5M890.6 340.4l10.5 10.5M890.6 350.9l10.5 -10.5M892.6 339.5l10.5 10.5M892.6 350l10.5 -10.5M893.9 337.4l10.5 10.5M893.9 347.9l10.5 -10.5M895.6 335.8l10.5 10.5M895.6 346.3l10.5 -10.5M898.9 336.6l10.5 10.5M898.9 347.1l10.5 -10.5M900.4 334.6l10.5 10.5M900.4 345.1l10.5 -10.5M902.2 333l10.5 10.5M902.2 343.5l10.5 -10.5M904.9 332.7l10.5 10.5M904.9 343.2l10.5 -10.5M906.2 330.1l10.5 10.5M906.2 340.6l10.5 -10.5M909 329.9l10.5 10.5M909 340.4l10.5 -10.5M911.1 328.4l10.5 10.5M911.1 338.9l10.5 -10.5M912.3 325.4l10.5 10.5M912.3 335.9l10.5 -10.5M914.6 324.1l10.5 10.5M914.6 334.6l10.5 -10.5M917 322.9l10.5 10.5M917 333.3l10.5 -10.5M919.2 321.3l10.5 10.5M919.2 331.8l10.5 -10.5M922.3 321l10.5 10.5M922.3 331.5l10.5 -10.5M924 318.5l10.5 10.5M924 328.9l10.5 -10.5M926.8 317.4l10.5 10.5M926.8 327.9l10.5 -10.5M928.5 314.9l10.5 10.5M928.5 325.3l10.5 -10.5M932.7 315.7l10.5 10.5M932.7 326.2l10.5 -10.5M933.9 312.2l10.5 10.5M933.9 322.7l10.5 -10.5M936.7 310.8l10.5 10.5M936.7 321.3l10.5 -10.5M939.6 309.6l10.5 10.5M939.6 320.1l10.5 -10.5M943.1 309.1l10.5 10.5M943.1 319.6l10.5 -10.5M944.7 305.6l10.5 10.5M944.7 316.1l10.5 -10.5M948.7 305.9l10.5 10.5M948.7 316.4l10.5 -10.5M950.6 302.5l10.5 10.5M950.6 313l10.5 -10.5M953.6 300.9l10.5 10.5M953.6 311.4l10.5 -10.5M956.5 299.1l10.5 10.5M956.5 309.6l10.5 -10.5M958 295l10.5 10.5M958 305.5l10.5 -10.5M962.1 294.8l10.5 10.5M962.1 305.3l10.5 -10.5M964 291.6l10.5 10.5M964 302l10.5 -10.5M966.2 288.2l10.5 10.5M966.2 298.7l10.5 -10.5M971.8 289.5l10.5 10.5M971.8 300l10.5 -10.5M973 284.4l10.5 10.5M973 294.9l10.5 -10.5M977.2 283.7l10.5 10.5M977.2 294.2l10.5 -10.5M981.3 283l10.5 10.5M981.3 293.5l10.5 -10.5M984.3 280.1l10.5 10.5M984.3 290.6l10.5 -10.5M987.1 276.8l10.5 10.5M987.1 287.3l10.5 -10.5M991.3 275.8l10.5 10.5M991.3 286.3l10.5 -10.5M995.1 273.9l10.5 10.5M995.1 284.4l10.5 -10.5M999.5 273.2l10.5 10.5M999.5 283.7l10.5 -10.5M1001.1 267.1l10.5 10.5M1001.1 277.5l10.5 -10.5M1006.5 267.6l10.5 10.5M1006.5 278.1l10.5 -10.5M1009.3 263.5l10.5 10.5M1009.3 274l10.5 -10.5M1013.4 261.4l10.5 10.5M1013.4 271.9l10.5 -10.5M1019.3 262.4l10.5 10.5M1019.3 272.9l10.5 -10.5M1022.4 258.4l10.5 10.5M1022.4 268.9l10.5 -10.5M1026.9 256.4l10.5 10.5M1026.9 266.9l10.5 -10.5M1031.9 255.5l10.5 10.5M1031.9 266l10.5 -10.5M1036.9 254.2l10.5 10.5M1036.9 264.7l10.5 -10.5M1039.5 248.4l10.5 10.5M1039.5 258.9l10.5 -10.5M1044.7 247.2l10.5 10.5M1044.7 257.7l10.5 -10.5M1048.8 243.9l10.5 10.5M1048.8 254.4l10.5 -10.5M1053.5 241.4l10.5 10.5M1053.5 251.9l10.5 -10.5M1059 240.2l10.5 10.5M1059 250.7l10.5 -10.5M1062.8 235.7l10.5 10.5M1062.8 246.2l10.5 -10.5M1068 233.7l10.5 10.5M1068 244.1l10.5 -10.5M1072.8 230.5l10.5 10.5M1072.8 241l10.5 -10.5M1080 231.7l10.5 10.5M1080 242.1l10.5 -10.5M1084 226.8l10.5 10.5M1084 237.3l10.5 -10.5" stroke="#94c266" stroke-width="0.8" fill="none"/>
<path d="M781.1 427.9h11.4M786.8 422.2v11.4M783.3 428h11.4M789 422.3v11.4M785 429h11.4M790.7 423.3v11.4M786.9 429h11.4M792.6 423.3v11.4M789 430.1h11.4M794.7 424.4v11.4M790.9 429.2h11.4M796.6 423.5v11.4M793 429.1h11.4M798.7 423.4v11.4M794.6 427.5h11.4M800.3 421.8v11.4M796.4 426.5h11.4M802.1 420.8v11.4M798.7 426.5h11.4M804.4 420.8v11.4M800.7 425.6h11.4M806.4 419.9v11.4M802.2 424.2h11.4M807.9 418.5v11.4M803.8 422.8h11.4M809.5 417.1v11.4M805.5 421.5h11.4M811.2 415.8v11.4M807 420h11.4M812.7 414.3v11.4M807.8 417.8h11.4M813.5 412.1v11.4M809.8 416.7h11.4M815.5 411v11.4M811 415h11.4M816.7 409.3v11.4M812.1 413h11.4M817.8 407.3v11.4M813.7 411.5h11.4M819.4 405.8v11.4M815.6 410.4h11.4M821.3 404.7v11.4M817.1 408.9h11.4M822.8 403.2v11.4M819.2 408h11.4M824.9 402.3v11.4M821.2 406.8h11.4M826.9 401.1v11.4M822 404.6h11.4M827.7 398.9v11.4M824.3 403.8h11.4M830 398.1v11.4M826 402.3h11.4M831.7 396.6v11.4M827.5 400.8h11.4M833.2 395.1v11.4M828.3 398.4h11.4M834 392.7v11.4M829.7 396.6h11.4M835.4 390.9v11.4M831.3 395.1h11.4M837 389.4v11.4M832.9 393.5h11.4M838.6 387.8v11.4M834.5 391.9h11.4M840.2 386.2v11.4M836.7 390.8h11.4M842.4 385.1v11.4M838.6 389.6h11.4M844.3 383.9v11.4M840.2 388h11.4M845.9 382.3v11.4M841.4 385.9h11.4M847.1 380.2v11.4M843.4 384.7h11.4M849.1 379v11.4M845.4 383.5h11.4M851.1 377.8v11.4M846.3 381h11.4M852 375.3v11.4M848.9 380.4h11.4M854.6 374.7v11.4M851 379.3h11.4M856.7 373.6v11.4M852.6 377.6h11.4M858.3 371.9v11.4M854.4 376h11.4M860.1 370.3v11.4M855.9 374.1h11.4M861.6 368.4v11.4M857.3 372.1h11.4M863 366.4v11.4M859.9 371.5h11.4M865.6 365.8v11.4M861.1 369.3h11.4M866.8 363.6v11.4M863.6 368.4h11.4M869.3 362.7v11.4M865.6 367.1h11.4M871.3 361.4v11.4M866.7 364.7h11.4M872.4 359v11.4M868.6 363.1h11.4M874.3 357.4v11.4M871.2 362.4h11.4M876.9 356.7v11.4M872.8 360.5h11.4M878.5 354.8v11.4M873.9 358.1h11.4M879.6 352.4v11.4M875.7 356.4h11.4M881.4 350.7v11.4M877.6 354.7h11.4M883.3 349v11.4M880.4 354.2h11.4M886.1 348.5v11.4M882.2 352.5h11.4M887.9 346.8v11.4M883 350.2h11.4M888.7 344.5v11.4M885.5 350.2h11.4M891.2 344.5v11.4M887.4 349.2h11.4M893.1 343.5v11.4M888.7 347.4h11.4M894.4 341.7v11.4M890.1 345.6h11.4M895.8 339.9v11.4M892.2 344.8h11.4M897.9 339.1v11.4M893.4 342.6h11.4M899.1 336.9v11.4M895.1 341.1h11.4M900.8 335.4v11.4M898.5 341.9h11.4M904.2 336.2v11.4M899.9 339.9h11.4M905.6 334.2v11.4M901.7 338.3h11.4M907.4 332.6v11.4M904.4 337.9h11.4M910.1 332.2v11.4M905.7 335.3h11.4M911.4 329.6v11.4M908.5 335.1h11.4M914.2 329.4v11.4M910.6 333.7h11.4M916.3 328v11.4M911.8 330.6h11.4M917.5 324.9v11.4M914.1 329.3h11.4M919.8 323.6v11.4M916.5 328.1h11.4M922.2 322.4v11.4M918.8 326.6h11.4M924.5 320.9v11.4M921.8 326.2h11.4M927.5 320.5v11.4M923.6 323.7h11.4M929.3 318v11.4M926.3 322.7h11.4M932 317v11.4M928.1 320.1h11.4M933.8 314.4v11.4M932.3 321h11.4M938 315.3v11.4M933.5 317.4h11.4M939.2 311.7v11.4M936.3 316.1h11.4M942 310.4v11.4M939.2 314.8h11.4M944.9 309.1v11.4M942.6 314.4h11.4M948.3 308.7v11.4M944.3 310.9h11.4M950 305.2v11.4M948.3 311.2h11.4M954 305.5v11.4M950.1 307.8h11.4M955.8 302.1v11.4M953.1 306.2h11.4M958.8 300.5v11.4M956 304.3h11.4M961.7 298.6v11.4M957.6 300.3h11.4M963.3 294.6v11.4M961.7 300.1h11.4M967.4 294.4v11.4M963.5 296.8h11.4M969.2 291.1v11.4M965.8 293.5h11.4M971.5 287.8v11.4M971.4 294.7h11.4M977.1 289v11.4M972.6 289.6h11.4M978.3 283.9v11.4M976.7 289h11.4M982.4 283.3v11.4M980.9 288.2h11.4M986.6 282.5v11.4M983.8 285.3h11.4M989.5 279.6v11.4M986.6 282.1h11.4M992.3 276.4v11.4M990.8 281.1h11.4M996.5 275.4v11.4M994.6 279.2h11.4M1000.3 273.5v11.4M999.1 278.4h11.4M1004.8 272.7v11.4M1000.6 272.3h11.4M1006.3 266.6v11.4M1006 272.9h11.4M1011.7 267.2v11.4M1008.9 268.7h11.4M1014.6 263v11.4M1013 266.7h11.4M1018.7 261v11.4M1018.8 267.6h11.4M1024.5 261.9v11.4M1022 263.6h11.4M1027.7 257.9v11.4M1026.4 261.7h11.4M1032.1 256v11.4M1031.5 260.7h11.4M1037.2 255v11.4M1036.4 259.4h11.4M1042.1 253.7v11.4M1039 253.7h11.4M1044.7 248v11.4M1044.2 252.4h11.4M1049.9 246.7v11.4M1048.4 249.1h11.4M1054.1 243.4v11.4M1053 246.6h11.4M1058.7 240.9v11.4M1058.6 245.5h11.4M1064.3 239.8v11.4M1062.3 240.9h11.4M1068 235.2v11.4M1067.6 238.9h11.4M1073.3 233.2v11.4M1072.3 235.7h11.4M1078 230v11.4M1079.6 236.9h11.4M1085.3 231.2v11.4M1083.6 232h11.4M1089.3 226.3v11.4" stroke="#6aab22" stroke-width="1.05" fill="none"/>
<path d="M786.2 427.3l10.5 10.5M786.2 437.8l10.5 -10.5M788.1 422.7l10.5 10.5M788.1 433.2l10.5 -10.5M789.1 417.7l10.5 10.5M789.1 428.2l10.5 -10.5M791.3 413.2l10.5 10.5M791.3 423.7l10.5 -10.5M793.6 408.8l10.5 10.5M793.6 419.3l10.5 -10.5M795.3 404l10.5 10.5M795.3 414.5l10.5 -10.5M795.7 399l10.5 10.5M795.7 409.4l10.5 -10.5M797.2 394.1l10.5 10.5M797.2 404.6l10.5 -10.5M799.3 389.6l10.5 10.5M799.3 400.1l10.5 -10.5" stroke="#f09a50" stroke-width="0.8" fill="none"/>
<path d="M785.7 432.6h11.4M791.4 426.9v11.4M787.7 428h11.4M793.4 422.3v11.4M788.7 423h11.4M794.4 417.3v11.4M790.8 418.5h11.4M796.5 412.8v11.4M793.2 414h11.4M798.9 408.3v11.4M794.9 409.3h11.4M800.6 403.6v11.4M795.2 404.2h11.4M800.9 398.5v11.4M796.7 399.4h11.4M802.4 393.7v11.4M798.9 394.9h11.4M804.6 389.2v11.4" stroke="#f0892a" stroke-width="1.05" fill="none"/>
<path d="M801 381.5l10.5 10.5M801 391.9l10.5 -10.5M803.1 377l10.5 10.5M803.1 387.5l10.5 -10.5M804.5 372.3l10.5 10.5M804.5 382.8l10.5 -10.5M807.3 368.1l10.5 10.5M807.3 378.6l10.5 -10.5M809.3 363.6l10.5 10.5M809.3 374.1l10.5 -10.5M811.2 359.1l10.5 10.5M811.2 369.6l10.5 -10.5M811.5 354l10.5 10.5M811.5 364.5l10.5 -10.5M814.3 349.8l10.5 10.5M814.3 360.3l10.5 -10.5M815.9 345.2l10.5 10.5M815.9 355.7l10.5 -10.5M816.8 340.2l10.5 10.5M816.8 350.7l10.5 -10.5M819.9 336.2l10.5 10.5M819.9 346.7l10.5 -10.5M821.9 331.7l10.5 10.5M821.9 342.2l10.5 -10.5M822.3 326.6l10.5 10.5M822.3 337.1l10.5 -10.5M825.5 322.6l10.5 10.5M825.5 333.1l10.5 -10.5M826.3 317.7l10.5 10.5M826.3 328.2l10.5 -10.5M828.3 313.2l10.5 10.5M828.3 323.7l10.5 -10.5M831 309l10.5 10.5M831 319.5l10.5 -10.5M832.5 304.3l10.5 10.5M832.5 314.8l10.5 -10.5M833.1 299.3l10.5 10.5M833.1 309.8l10.5 -10.5M835.4 294.9l10.5 10.5M835.4 305.4l10.5 -10.5M837.4 290.4l10.5 10.5M837.4 300.9l10.5 -10.5M838.9 285.8l10.5 10.5M838.9 296.2l10.5 -10.5M840.4 281.1l10.5 10.5M840.4 291.6l10.5 -10.5M842.4 276.6l10.5 10.5M842.4 287.1l10.5 -10.5M845 272.4l10.5 10.5M845 282.9l10.5 -10.5M845.5 267.3l10.5 10.5M845.5 277.8l10.5 -10.5M848.3 263.1l10.5 10.5M848.3 273.6l10.5 -10.5M849.9 258.5l10.5 10.5M849.9 269l10.5 -10.5M850.9 253.6l10.5 10.5M850.9 264.1l10.5 -10.5M853.3 249.3l10.5 10.5M853.3 259.8l10.5 -10.5M855.6 245l10.5 10.5M855.6 255.5l10.5 -10.5M857.2 240.3l10.5 10.5M857.2 250.8l10.5 -10.5M858.2 235.4l10.5 10.5M858.2 245.9l10.5 -10.5" stroke="#f09a50" stroke-width="0.8" fill="none"/>
<path d="M800.6 386.7h11.4M806.3 381v11.4M802.6 382.2h11.4M808.3 376.5v11.4M804 377.5h11.4M809.7 371.8v11.4M806.9 373.4h11.4M812.6 367.7v11.4M808.8 368.8h11.4M814.5 363.1v11.4M810.7 364.3h11.4M816.4 358.6v11.4M811.1 359.2h11.4M816.8 353.5v11.4M813.8 355h11.4M819.5 349.3v11.4M815.5 350.4h11.4M821.2 344.7v11.4M816.3 345.5h11.4M822 339.8v11.4M819.5 341.5h11.4M825.2 335.8v11.4M821.5 337h11.4M827.2 331.3v11.4M821.9 331.9h11.4M827.6 326.2v11.4M825.1 327.9h11.4M830.8 322.2v11.4M825.8 322.9h11.4M831.5 317.2v11.4M827.8 318.4h11.4M833.5 312.7v11.4M830.6 314.2h11.4M836.3 308.5v11.4M832.1 309.6h11.4M837.8 303.9v11.4M832.7 304.5h11.4M838.4 298.8v11.4M835 300.2h11.4M840.7 294.5v11.4M836.9 295.7h11.4M842.6 290v11.4M838.4 291h11.4M844.1 285.3v11.4M839.9 286.3h11.4M845.6 280.6v11.4M842 281.9h11.4M847.7 276.2v11.4M844.5 277.6h11.4M850.2 271.9v11.4M845 272.5h11.4M850.7 266.8v11.4M847.8 268.4h11.4M853.5 262.7v11.4M849.4 263.7h11.4M855.1 258v11.4M850.4 258.9h11.4M856.1 253.2v11.4M852.8 254.5h11.4M858.5 248.8v11.4M855.2 250.2h11.4M860.9 244.5v11.4M856.8 245.6h11.4M862.5 239.9v11.4M857.8 240.7h11.4M863.5 235v11.4" stroke="#f0892a" stroke-width="1.05" fill="none"/>
<path d="M862.1 230.6l10.5 10.5M862.1 241l10.5 -10.5M865.7 214.7l10.5 10.5M865.7 225.1l10.5 -10.5M871 211.2l10.5 10.5M871 221.6l10.5 -10.5M876.3 195.3l10.5 10.5M876.3 205.7l10.5 -10.5M883.3 179.4l10.5 10.5M883.3 189.8l10.5 -10.5M881.5 175.9l10.5 10.5M881.5 186.3l10.5 -10.5M886.8 165.3l10.5 10.5M886.8 175.7l10.5 -10.5M888.6 149.4l10.5 10.5M888.6 159.8l10.5 -10.5M897.4 144.1l10.5 10.5M897.4 154.5l10.5 -10.5M895.7 130l10.5 10.5M895.7 140.4l10.5 -10.5M902.7 119.5l10.5 10.5M902.7 129.9l10.5 -10.5M908 114.2l10.5 10.5M908 124.6l10.5 -10.5M909.8 100.1l10.5 10.5M909.8 110.5l10.5 -10.5M913.3 87.7l10.5 10.5M913.3 98.1l10.5 -10.5M918.6 84.2l10.5 10.5M918.6 94.6l10.5 -10.5M916.8 78.9l10.5 10.5M916.8 89.3l10.5 -10.5M925.6 75.4l10.5 10.5M925.6 85.8l10.5 -10.5M929.2 70.1l10.5 10.5M929.2 80.5l10.5 -10.5M922.1 54.2l10.5 10.5M922.1 64.6l10.5 -10.5M936.2 47.1l10.5 10.5M936.2 57.5l10.5 -10.5" stroke="#f09a50" stroke-width="0.8" fill="none"/>
<path d="M861.6 235.8h11.4M867.3 230.1v11.4M865.2 219.9h11.4M870.9 214.2v11.4M870.5 216.4h11.4M876.2 210.7v11.4M875.8 200.5h11.4M881.5 194.8v11.4M882.8 184.6h11.4M888.5 178.9v11.4M881 181.1h11.4M886.7 175.4v11.4M886.3 170.5h11.4M892 164.8v11.4M888.1 154.6h11.4M893.8 148.9v11.4M896.9 149.3h11.4M902.6 143.6v11.4M895.2 135.2h11.4M900.9 129.5v11.4M902.2 124.7h11.4M907.9 119v11.4M907.5 119.4h11.4M913.2 113.7v11.4M909.3 105.3h11.4M915 99.6v11.4M912.8 92.9h11.4M918.5 87.2v11.4M918.1 89.4h11.4M923.8 83.7v11.4M916.3 84.1h11.4M922 78.4v11.4M925.1 80.6h11.4M930.8 74.9v11.4M928.7 75.3h11.4M934.4 69.6v11.4M921.6 59.4h11.4M927.3 53.7v11.4M935.7 52.3h11.4M941.4 46.6v11.4" stroke="#f0892a" stroke-width="1.05" fill="none"/>
<path d="M1097.8 335.3l10.5 10.5M1097.8 345.7l10.5 -10.5" stroke="#8ccaf2" stroke-width="0.8" fill="none"/>
<path d="M1097.3 340.5h11.4M1103 334.8v11.4" stroke="#55b9f3" stroke-width="1.05" fill="none"/>
<path d="M618.3 490 L1091.8 228.4 M760.2 490 L939.9 47 M797.6 490 L1096.5 347.6" stroke="#000" stroke-width="3.2" fill="none"/>
<rect x="591.2" y="42.8" width="533.8" height="447.2" fill="none" stroke="#000" stroke-width="1.75"/>
<path d="M611.7 490 v-8.5M693.9 490 v-8.5M776 490 v-8.5M858.1 490 v-8.5M940.2 490 v-8.5M1022.3 490 v-8.5M1104.5 490 v-8.5" stroke="#000" stroke-width="1.75" fill="none"/>
<path d="M652.8 490 v-4.3M734.9 490 v-4.3M817 490 v-4.3M899.2 490 v-4.3M981.3 490 v-4.3M1063.4 490 v-4.3" stroke="#000" stroke-width="1.75" fill="none"/>
<path d="M611.7 42.8 v8.5M693.9 42.8 v8.5M776 42.8 v8.5M858.1 42.8 v8.5M940.2 42.8 v8.5M1022.3 42.8 v8.5M1104.5 42.8 v8.5" stroke="#000" stroke-width="1.75" fill="none"/>
<path d="M652.8 42.8 v4.3M734.9 42.8 v4.3M817 42.8 v4.3M899.2 42.8 v4.3M981.3 42.8 v4.3M1063.4 42.8 v4.3" stroke="#000" stroke-width="1.75" fill="none"/>
<path d="M591.2 362 h8.5M591.2 233.9 h8.5M591.2 105.9 h8.5" stroke="#000" stroke-width="1.75" fill="none"/>
<path d="M591.2 426 h4.3M591.2 297.9 h4.3M591.2 169.9 h4.3" stroke="#000" stroke-width="1.75" fill="none"/>
<path d="M1125 362 h-8.5M1125 233.9 h-8.5M1125 105.9 h-8.5" stroke="#000" stroke-width="1.75" fill="none"/>
<path d="M1125 426 h-4.3M1125 297.9 h-4.3M1125 169.9 h-4.3" stroke="#000" stroke-width="1.75" fill="none"/>
<text x="611.7" y="524.8" font-size="32" text-anchor="middle">-80</text>
<text x="693.9" y="524.8" font-size="32" text-anchor="middle">-40</text>
<text x="776" y="524.8" font-size="32" text-anchor="middle">0</text>
<text x="858.1" y="524.8" font-size="32" text-anchor="middle">40</text>
<text x="940.2" y="524.8" font-size="32" text-anchor="middle">80</text>
<text x="1022.3" y="524.8" font-size="32" text-anchor="middle">120</text>
<text x="1104.5" y="524.8" font-size="32" text-anchor="middle">160</text>
<text x="589.6" y="499.8" font-size="32" text-anchor="end">0</text>
<text x="589.6" y="371.8" font-size="32" text-anchor="end">200</text>
<text x="589.6" y="243.7" font-size="32" text-anchor="end">400</text>
<text x="589.6" y="115.7" font-size="32" text-anchor="end">600</text>
<text x="811" y="557.9" font-size="31.5"><tspan font-style="italic">T</tspan> (K)</text>
<text transform="translate(519.8 297.5) rotate(-90)" font-size="31.5" text-anchor="middle">χ<tspan dy="-12" font-size="20">−1</tspan><tspan dy="12"> (emu·mol</tspan><tspan dy="-12" font-size="20">-1</tspan><tspan dy="12">·Oe</tspan><tspan dy="-12" font-size="20">-1</tspan><tspan dy="12">)</tspan><tspan dy="-12" font-size="20">-1</tspan></text>
<text x="489.5" y="30.7" font-size="38.5" text-anchor="start">b</text>
<text transform="translate(612.5 450.8) scale(1.17 1) skewX(-6)" font-size="33" font-family="'Liberation Serif', 'Times New Roman', serif" font-style="italic">θ</text>
<text x="629.6" y="459.6" font-size="23">W</text>
<path d="M933.1 103.7l10.5 10.5M933.1 114.1l10.5 -10.5" stroke="#f09a50" stroke-width="0.8" fill="none"/>
<path d="M932.6 108.9h11.4M938.3 103.2v11.4" stroke="#f0892a" stroke-width="1.05" fill="none"/>
<text x="968.8" y="118.2" font-size="27.5">Ru<tspan font-size="18.5" dy="6.9">0.9</tspan><tspan dy="-6.9">Cr</tspan><tspan font-size="18.5" dy="6.9">0.1</tspan><tspan dy="-6.9">O</tspan><tspan font-size="18.5" dy="6.9">2</tspan></text>
<path d="M933.1 143.7l10.5 10.5M933.1 154.1l10.5 -10.5" stroke="#94c266" stroke-width="0.8" fill="none"/>
<path d="M932.6 148.9h11.4M938.3 143.2v11.4" stroke="#6aab22" stroke-width="1.05" fill="none"/>
<text x="968.8" y="158.2" font-size="27.5">Ru<tspan font-size="18.5" dy="6.9">0.8</tspan><tspan dy="-6.9">Cr</tspan><tspan font-size="18.5" dy="6.9">0.2</tspan><tspan dy="-6.9">O</tspan><tspan font-size="18.5" dy="6.9">2</tspan></text>
<path d="M933.1 183.7l10.5 10.5M933.1 194.1l10.5 -10.5" stroke="#8ccaf2" stroke-width="0.8" fill="none"/>
<path d="M932.6 188.9h11.4M938.3 183.2v11.4" stroke="#55b9f3" stroke-width="1.05" fill="none"/>
<text x="968.8" y="198.2" font-size="27.5">Ru<tspan font-size="18.5" dy="6.9">0.7</tspan><tspan dy="-6.9">Cr</tspan><tspan font-size="18.5" dy="6.9">0.3</tspan><tspan dy="-6.9">O</tspan><tspan font-size="18.5" dy="6.9">2</tspan></text>
<rect x="654" y="61" width="197" height="174.4" fill="#fff" stroke="#000" stroke-width="1.5"/>
<path d="M673.7 235.4 v-5.3M752.5 235.4 v-5.3M831.3 235.4 v-5.3" stroke="#000" stroke-width="1.3" fill="none"/>
<path d="M713.1 235.4 v-2.6M791.9 235.4 v-2.6" stroke="#000" stroke-width="1.3" fill="none"/>
<path d="M673.7 61 v5.3M752.5 61 v5.3M831.3 61 v5.3" stroke="#000" stroke-width="1.3" fill="none"/>
<path d="M713.1 61 v2.6M791.9 61 v2.6" stroke="#000" stroke-width="1.3" fill="none"/>
<path d="M654 197 h5.3M654 119.2 h5.3" stroke="#000" stroke-width="1.3" fill="none"/>
<path d="M654 158.1 h2.6M654 80.3 h2.6" stroke="#000" stroke-width="1.3" fill="none"/>
<path d="M851 197 h-5.3M851 119.2 h-5.3" stroke="#000" stroke-width="1.3" fill="none"/>
<path d="M851 158.1 h-2.6M851 80.3 h-2.6" stroke="#000" stroke-width="1.3" fill="none"/>
<text x="673.7" y="262.7" font-size="26" text-anchor="middle">0.1</text>
<text x="752.5" y="262.7" font-size="26" text-anchor="middle">0.2</text>
<text x="831.3" y="262.7" font-size="26" text-anchor="middle">0.3</text>
<text x="648.6" y="204.7" font-size="26" text-anchor="end">1</text>
<text x="648.6" y="126.9" font-size="26" text-anchor="end">2</text>
<text x="752.5" y="289.7" font-size="27.5" text-anchor="middle">x</text>
<text transform="translate(621 159.8) rotate(-90)" font-size="23" text-anchor="middle"><tspan font-family="'Liberation Serif', 'Times New Roman', serif" font-style="italic" font-size="27">μ</tspan><tspan font-size="19" dy="5">eff</tspan><tspan dy="-5"> (μ</tspan><tspan font-size="17" dy="5">B</tspan><tspan dy="-5">)</tspan></text>
<path d="M673.7 198.6 752.5 115.6 831.3 89.6" stroke="#000" stroke-width="2" fill="none"/>
<path d="M673.7 192.6 L678.9 195.6 L678.9 201.6 L673.7 204.6 L668.5 201.6 L668.5 195.6 Z" fill="#fff" stroke="#000" stroke-width="1.1"/>
<path d="M673.7 192.6 L673.7 204.6 L668.5 201.6 L668.5 195.6 L673.7 192.6 Z" fill="#000"/>
<path d="M752.5 109.6 L757.7 112.6 L757.7 118.6 L752.5 121.6 L747.3 118.6 L747.3 112.6 Z" fill="#fff" stroke="#000" stroke-width="1.1"/>
<path d="M752.5 109.6 L752.5 121.6 L747.3 118.6 L747.3 112.6 L752.5 109.6 Z" fill="#000"/>
<path d="M831.3 83.6 L836.5 86.6 L836.5 92.6 L831.3 95.6 L826.1 92.6 L826.1 86.6 Z" fill="#fff" stroke="#000" stroke-width="1.1"/>
<path d="M831.3 83.6 L831.3 95.6 L826.1 92.6 L826.1 86.6 L831.3 83.6 Z" fill="#000"/>
<svg x="1224.9" y="42.8" width="522" height="447.2" viewBox="1224.9 42.8 522 447.2" overflow="hidden">
<g fill="none" stroke-linejoin="round" stroke-linecap="round">
<path d="M1225.2 328.8 1242.5 327.5 1261 325.9 1279.6 324.2 1298.1 322 1316.6 320.1 1335.1 317.7 1353.6 313.3 1372.1 309.6 1384 307.8 1394.7 305.5 1407 302 1420 297.5 1433 291.5 1443 287 1459 279.6 1470 274 1485.8 266.3 1500 257.5 1507.1 254 1519.4 246 1530 242 1538.8 238.5 1558.2 231.3 1577.6 226 1597 221.1 1616.4 216.8 1630 214.6 1644.7 212.8 1669.4 209.5 1681.7 207.5 1706.4 205.8 1724.9 204.6 1746.5 203.6" stroke="#ee7f22" stroke-width="4.4"/>
<path d="M1225.2 330.4 1242.5 329 1261 327.4 1279.6 325.6 1298.1 323.4 1316.6 321.4 1335.1 318.9 1353.6 314.4 1372.1 310.7 1384 308.8 1394.7 306.4 1407 302.9 1420 298.3 1433 292.2 1443 287.7 1459 280.1 1470 274.4 1485.8 266.3 1500 257.1 1507.1 253.5 1519.4 245.4 1530 241.3 1538.8 237.8 1558.2 230.5 1577.6 225.1 1597 220.1 1616.4 215.7 1630 213.4 1644.7 211.5 1669.4 208.2 1681.7 206.1 1706.4 204.3 1724.9 203.1 1746.5 202" stroke="#ee7f22" stroke-width="4.4"/>
<path d="M1225.2 338 1232.1 336.1 1238.9 341.2 1245.7 334.7 1254.2 333 1260.6 335.7 1270 331.6 1275.5 335.3 1283.9 326.7 1298 323 1306 329.8 1313.7 323.9 1321.2 327.5 1329 320 1335.8 324.6 1343.2 317.3 1351.3 314.6 1358.8 316.9 1366.6 314.7 1373 315.7 1380.7 309.3 1394.2 306 1407.1 301.7 1419.8 299.9 1433.7 292.6 1443.3 287.8 1450.5 282.1 1458.3 281.5 1470.3 276.2 1477.2 270.9 1485.8 267.1 1492.6 263.4 1499.4 257.2 1507.4 254.9 1519.7 245.7 1530.4 242.5 1538.6 237.7 1549.1 235.1 1558.1 231.5 1565.5 228.3 1577.8 226.1 1587.4 224.1 1596.4 221.5 1605.7 219.9 1616.7 214.1 1624.7 213.5 1632.2 213.2 1644.1 209.2 1656.3 206.8 1666.9 202.3 1675.9 204.6 1681.9 201.7 1696.1 196 1703.7 200.2 1711 195.3 1719.4 198.4 1726.1 194.2 1737.1 193.4 1746.5 191.3" stroke="#62a614" stroke-width="4.8"/>
<path d="M1225.2 338 1231 336 1239.2 341.4 1246.7 335.5 1253.7 331.2 1260.5 336.8 1270.2 331.3 1276.2 335.3 1283 325.1 1298 323.6 1306.3 327.8 1314.3 323.2 1321.2 327.5 1329.6 320.5 1335.7 322.1 1344.3 316.6 1351.5 313.6 1358.3 318.7 1365.3 314.5 1373.6 314.8 1381.3 310 1394.2 304.9 1407.2 302.8 1420.2 299.1 1433.4 293.7 1443.3 286.4 1451 282.6 1458.3 279.9 1470.3 273.3 1477.6 269.8 1486.1 266.4 1493.1 262.6 1499.8 258.1 1507.7 252 1520 245.8 1529.5 240.8 1539 238.5 1548.3 234 1558.7 231.6 1565.6 227.9 1577.8 225.4 1587.6 224.9 1597.2 221.8 1604.6 219.9 1617.1 216.2 1624.4 214.3 1632 213.5 1645.2 207.8 1656.4 206.2 1667 204.3 1675.6 202.9 1682.1 198.6 1696.9 196.6 1703.8 200.6 1710.9 195.2 1718.8 198.6 1726.7 193.5 1737.9 192.8 1746.5 191.3" stroke="#62a614" stroke-width="4.8"/>
<path d="M1748 50.5 1741.1 53.4 1735 59.1 1727 60.9 1717.3 64 1703.2 61.3 1697 67.9 1689.1 73.2 1682 71.5 1673.2 71.5 1665.3 74.1 1661.8 78.8 1658 80.9 1651.4 77.1 1643.3 90.9 1634.5 81.9 1627.9 96 1620.2 92.1 1605.9 98.3 1598 104.5 1590.6 118.3 1582.7 106.8 1574.8 121.4 1566.8 129.9 1552.6 133.9 1539.5 150.7 1530.6 163.2 1522.9 171.8 1515.2 180.4 1501.3 206.9 1498.5 222 1495.1 236.3 1489.4 250.4 1482.4 264.5 1478.2 275.8 1475.9 287 1474.8 298.3 1471.6 310 1468.1 327 1463.8 336.1 1451.8 355.7 1441.5 373.1 1434.2 373.4 1428.8 382.3 1419.1 386.8 1410.4 384.8 1406.6 395.5 1402.1 400.8 1391.7 407.7 1379.6 415.7 1372.2 421.9 1367.1 431.8 1359.9 428.3 1351.5 433.2 1343.1 438.4 1336.4 428.5 1329.1 434.9 1319.9 449.2 1312.7 444.8 1305.1 458.4 1298.4 446.2 1291.8 454.6 1283.3 468.3 1275.6 459.6 1262.2 464 1253.6 463.4 1247.3 463.1 1239.2 471.5 1231.5 461.6 1225 467.3" stroke="#4db8f8" stroke-width="4.4"/>
<path d="M1225 471.7 1231.6 466.8 1238.8 477.1 1247.1 469.5 1254.1 468.6 1262.6 470.4 1276.2 460.4 1283.5 471.7 1291.5 461 1297.8 450.8 1305.3 464.6 1312.5 446.2 1320.6 452.8 1328.7 437.1 1336.5 432.5 1343.5 442.6 1351.5 433.8 1359.7 430.3 1366.4 434.2 1371.8 428.1 1380.3 421.1 1392.2 409.3 1402.6 406.4 1406.9 396.9 1410.3 389.2 1419.5 388.2 1429.6 382.9 1434 379.4 1441.2 374.9 1451.3 357.7 1464.3 342.7 1468.3 333 1473.9 307.7 1476.5 298.3 1481 287 1485.2 275.8 1489.4 264.5 1495.1 250.4 1497.9 236.3 1499.5 222 1501.3 209.2 1515.2 186.2 1523.2 175.4 1531.4 167.4 1539.3 152.5 1552.5 139.5 1567.2 134.3 1574.6 127.2 1582.8 112.2 1590.7 120.5 1598.2 107.1 1605.6 99.7 1620.2 93.5 1627.6 97 1634.9 84.1 1643.2 94.7 1651 77.7 1657.6 85.1 1662 81.2 1667 82 1673.2 78.5 1682 74.1 1689.1 76.7 1697 75 1703.2 68.4 1718.2 73.2 1725.3 65.3 1735 62.2 1740.2 64.4 1748 55" stroke="#4db8f8" stroke-width="4.4"/>
</g>
</svg>
<path d="M1224.9 266.2 H1746.9 M1486 42.8 V490" stroke="#000" stroke-width="1.9" stroke-dasharray="4.2 2.8" fill="none"/>
<rect x="1224.9" y="42.8" width="522" height="447.2" fill="none" stroke="#000" stroke-width="1.75"/>
<path d="M1262.2 490 v-8.5M1336.8 490 v-8.5M1411.4 490 v-8.5M1486 490 v-8.5M1560.6 490 v-8.5M1635.2 490 v-8.5M1709.8 490 v-8.5" stroke="#000" stroke-width="1.75" fill="none"/>
<path d="M1299.5 490 v-4.3M1374.1 490 v-4.3M1448.7 490 v-4.3M1523.3 490 v-4.3M1597.9 490 v-4.3M1672.5 490 v-4.3" stroke="#000" stroke-width="1.75" fill="none"/>
<path d="M1262.2 42.8 v8.5M1336.8 42.8 v8.5M1411.4 42.8 v8.5M1486 42.8 v8.5M1560.6 42.8 v8.5M1635.2 42.8 v8.5M1709.8 42.8 v8.5" stroke="#000" stroke-width="1.75" fill="none"/>
<path d="M1299.5 42.8 v4.3M1374.1 42.8 v4.3M1448.7 42.8 v4.3M1523.3 42.8 v4.3M1597.9 42.8 v4.3M1672.5 42.8 v4.3" stroke="#000" stroke-width="1.75" fill="none"/>
<path d="M1224.9 445.2 h8.5M1224.9 266.2 h8.5M1224.9 87.2 h8.5" stroke="#000" stroke-width="1.75" fill="none"/>
<path d="M1224.9 385.5 h4.3M1224.9 325.9 h4.3M1224.9 206.5 h4.3M1224.9 146.9 h4.3" stroke="#000" stroke-width="1.75" fill="none"/>
<path d="M1746.9 445.2 h-8.5M1746.9 266.2 h-8.5M1746.9 87.2 h-8.5" stroke="#000" stroke-width="1.75" fill="none"/>
<path d="M1746.9 385.5 h-4.3M1746.9 325.9 h-4.3M1746.9 206.5 h-4.3M1746.9 146.9 h-4.3" stroke="#000" stroke-width="1.75" fill="none"/>
<text x="1262.2" y="524.8" font-size="32" text-anchor="middle">-6</text>
<text x="1336.8" y="524.8" font-size="32" text-anchor="middle">-4</text>
<text x="1411.4" y="524.8" font-size="32" text-anchor="middle">-2</text>
<text x="1486" y="524.8" font-size="32" text-anchor="middle">0</text>
<text x="1560.6" y="524.8" font-size="32" text-anchor="middle">2</text>
<text x="1635.2" y="524.8" font-size="32" text-anchor="middle">4</text>
<text x="1709.8" y="524.8" font-size="32" text-anchor="middle">6</text>
<text x="1222.2" y="96.9" font-size="32" text-anchor="end">0.1</text>
<text x="1222.2" y="275.9" font-size="32" text-anchor="end">0.0</text>
<text x="1222.2" y="454.9" font-size="32" text-anchor="end">-0.1</text>
<text x="1439.5" y="555.2" font-size="31.5"><tspan font-family="'Liberation Serif', 'Times New Roman', serif" font-size="32">μ</tspan><tspan font-family="'Liberation Serif', 'Times New Roman', serif" font-size="24" dy="8.5">0</tspan><tspan font-style="italic" dy="-8.5">H</tspan> (T)</text>
<text transform="translate(1168.3 287.7) rotate(-90)" font-size="31.5" text-anchor="middle"><tspan font-style="italic">M</tspan> (μ<tspan font-size="21" dy="7">B</tspan><tspan dy="-7"> / f.u.)</tspan></text>
<text x="1141.4" y="30.7" font-size="38.5" text-anchor="start">c</text>
<text x="1601.8" y="75" font-size="28.4"><tspan font-style="italic">T</tspan> = 3 K</text>
<path d="M1531.5 360.6 H1578" stroke="#ee7f22" stroke-width="4.6" stroke-linecap="round"/>
<text x="1584.3" y="369.8" font-size="27.5">Ru<tspan font-size="18.5" dy="6.9">0.9</tspan><tspan dy="-6.9">Cr</tspan><tspan font-size="18.5" dy="6.9">0.1</tspan><tspan dy="-6.9">O</tspan><tspan font-size="18.5" dy="6.9">2</tspan></text>
<path d="M1531.5 400.8 H1578" stroke="#62a614" stroke-width="4.6" stroke-linecap="round"/>
<text x="1584.3" y="409.9" font-size="27.5">Ru<tspan font-size="18.5" dy="6.9">0.8</tspan><tspan dy="-6.9">Cr</tspan><tspan font-size="18.5" dy="6.9">0.2</tspan><tspan dy="-6.9">O</tspan><tspan font-size="18.5" dy="6.9">2</tspan></text>
<path d="M1531.5 440.9 H1578" stroke="#4db8f8" stroke-width="4.6" stroke-linecap="round"/>
<text x="1584.3" y="450.1" font-size="27.5">Ru<tspan font-size="18.5" dy="6.9">0.7</tspan><tspan dy="-6.9">Cr</tspan><tspan font-size="18.5" dy="6.9">0.3</tspan><tspan dy="-6.9">O</tspan><tspan font-size="18.5" dy="6.9">2</tspan></text>
<rect x="1289" y="55.8" width="185.4" height="175.5" fill="#fff"/>
<svg x="1289" y="55.8" width="185.4" height="175.5" viewBox="1289 55.8 185.4 175.5" overflow="hidden">
<g fill="none" stroke-linejoin="round" stroke-linecap="round">
<path d="M1289 176.9 1300 173.7 1320 168.4 1340 162.4 1361.8 150.9 1381.5 144 1395 137.4 1409.5 130.2 1425 124.9 1440 117.2 1460 112.4 1475 108.2" stroke="#ee7f22" stroke-width="4.6"/>
<path d="M1289 179.5 1296 178 1302 175.8 1310 174 1318 170.5 1326 170 1333 165 1340 163.5 1346 159 1352 157.5 1361.8 152.8 1370 150 1376 147 1381.5 145.8 1388 143 1395 140.5 1402 137 1409.5 132 1416 130.5 1423 126.5 1430 125.5 1438 120 1445 119 1452 116 1460 114.5 1467 111.2 1475 109.5" stroke="#62a614" stroke-width="4.6"/>
<path d="M1426 50 1423.8 55.5 1415.9 63 1407.9 69.3 1404.7 86.8 1398.4 105.9 1387.2 125 1377.7 137.7 1371.3 147.2 1368.2 156.7 1365 175.8 1361.8 191.7 1355.4 210.8 1344 232 1341 238" stroke="#1a9cf0" stroke-width="4.4"/>
<path d="M1344 238 1347 232 1353.8 217.2 1361.8 194.9 1365 179 1371.3 169.5 1380.9 156.7 1390.4 144 1395.2 128.1 1398.4 109.1 1403.1 86.8 1406.3 70.9 1416 60 1424 52" stroke="#1a9cf0" stroke-width="4.4"/>
</g></svg>
<path d="M1289 143.6 H1474.4 M1381.6 55.8 V231.3" stroke="#333" stroke-width="1.5" stroke-dasharray="5.5 3.5" fill="none"/>
<rect x="1289" y="55.8" width="185.4" height="175.5" fill="none" stroke="#555" stroke-width="1.5"/>
<path d="M1319.9 231.3 v-5.3M1381.6 231.3 v-5.3M1443.3 231.3 v-5.3" stroke="#555" stroke-width="1.3" fill="none"/>
<path d="M1350.8 231.3 v-2.6M1412.4 231.3 v-2.6" stroke="#555" stroke-width="1.3" fill="none"/>
<path d="M1319.9 55.8 v5.3M1381.6 55.8 v5.3M1443.3 55.8 v5.3" stroke="#555" stroke-width="1.3" fill="none"/>
<path d="M1350.8 55.8 v2.6M1412.4 55.8 v2.6" stroke="#555" stroke-width="1.3" fill="none"/>
<path d="M1289 209.2 h5.3M1289 143.6 h5.3M1289 78 h5.3" stroke="#555" stroke-width="1.3" fill="none"/>
<path d="M1289 176.4 h2.6M1289 110.8 h2.6" stroke="#555" stroke-width="1.3" fill="none"/>
<path d="M1474.4 209.2 h-5.3M1474.4 143.6 h-5.3M1474.4 78 h-5.3" stroke="#555" stroke-width="1.3" fill="none"/>
<path d="M1474.4 176.4 h-2.6M1474.4 110.8 h-2.6" stroke="#555" stroke-width="1.3" fill="none"/>
<text x="1319.9" y="256.1" font-size="23.4" text-anchor="middle">-1</text>
<text x="1381.6" y="256.1" font-size="23.4" text-anchor="middle">0</text>
<text x="1443.3" y="256.1" font-size="23.4" text-anchor="middle">1</text>
<text x="1282.3" y="86.2" font-size="23.4" text-anchor="end">0.03</text>
<text x="1282.3" y="151.8" font-size="23.4" text-anchor="end">0.00</text>
<text x="1282.3" y="217.4" font-size="23.4" text-anchor="end">-0.03</text>
</svg></body></html>
